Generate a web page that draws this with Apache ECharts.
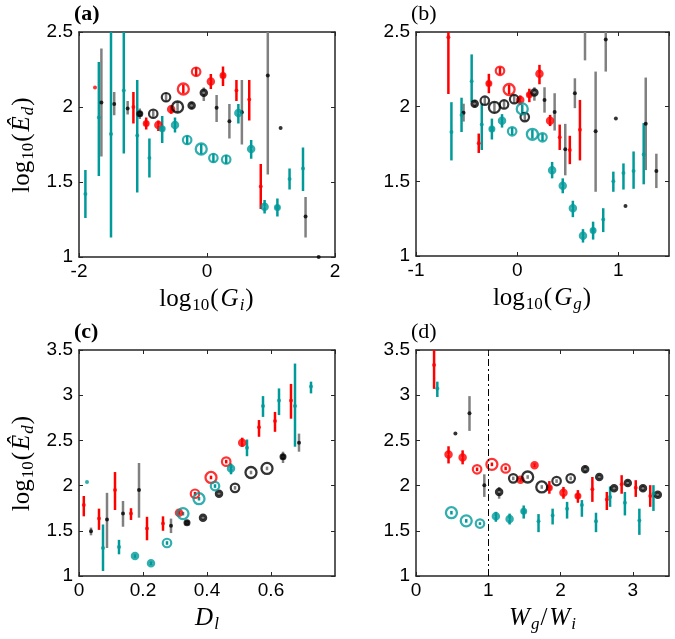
<!DOCTYPE html>
<html>
<head>
<meta charset="utf-8">
<script src="https://cdn.jsdelivr.net/npm/echarts@6/dist/echarts.min.js"></script>
<style>
  html, body { margin: 0; padding: 0; background: #fff; }
  #chart { width: 675px; height: 639px; }
</style>
</head>
<body>
<div id="chart"></div>
<script>
// each point: [x, y, errLow, errHigh, sizeClass]  (sizeClass 1..5 ~ sample count)
const aRed = [
  [-1.75, 2.13, 2.13, 2.13, 1], [-1.15, 2.00, 1.89, 2.10, 1], [-0.95, 1.89, 1.85, 1.93, 2],
  [-0.76, 1.88, 1.84, 1.91, 3], [-0.56, 1.985, 1.955, 2.01, 3], [-0.37, 2.12, 2.09, 2.15, 5],
  [-0.17, 2.235, 2.205, 2.265, 4], [0.06, 2.17, 2.12, 2.22, 3], [0.25, 2.21, 2.14, 2.27, 2],
  [0.46, 2.11, 2.04, 2.18, 1], [0.66, 2.05, 1.91, 2.18, 1], [0.84, 1.47, 1.32, 1.62, 1]
];
const aBlack = [
  [-1.65, 2.03, 1.67, 2.39, 1], [-1.45, 2.02, 1.945, 2.10, 1], [-1.24, 1.99, 1.95, 2.04, 1],
  [-1.05, 1.955, 1.92, 1.99, 2], [-0.84, 1.955, 1.93, 1.98, 4], [-0.64, 2.065, 2.035, 2.095, 4],
  [-0.46, 2.00, 1.965, 2.035, 5], [-0.24, 2.01, 1.985, 2.035, 3], [-0.05, 2.095, 2.04, 2.13, 3],
  [0.15, 1.995, 1.90, 2.08, 1], [0.35, 1.905, 1.79, 2.02, 1], [0.545, 1.965, 1.75, 2.18, 1],
  [0.95, 2.21, 1.55, 2.60, 1], [1.15, 1.86, 1.86, 1.86, 1], [1.54, 1.27, 1.13, 1.40, 1],
  [1.745, 1.00, 1.00, 1.00, 1]
];
const aTeal = [
  [-1.90, 1.42, 1.26, 1.58, 1], [-1.69, 1.93, 1.54, 2.30, 1], [-1.50, 1.82, 1.13, 2.60, 1],
  [-1.30, 2.11, 1.69, 2.60, 1], [-1.09, 1.81, 1.43, 2.18, 1], [-0.90, 1.66, 1.53, 1.79, 1],
  [-0.70, 1.855, 1.76, 1.94, 2], [-0.50, 1.88, 1.83, 1.93, 3], [-0.31, 1.78, 1.75, 1.81, 4],
  [-0.09, 1.72, 1.685, 1.755, 5], [0.10, 1.66, 1.63, 1.69, 4], [0.30, 1.65, 1.62, 1.68, 4],
  [0.49, 1.96, 1.89, 2.02, 3], [0.69, 1.72, 1.655, 1.78, 3], [0.90, 1.335, 1.29, 1.38, 3],
  [1.10, 1.33, 1.27, 1.39, 2], [1.29, 1.52, 1.45, 1.59, 1], [1.50, 1.59, 1.44, 1.73, 1]
];

const bRed = [
  [-0.68, 2.465, 2.085, 2.60, 1], [-0.38, 1.755, 1.69, 1.82, 1], [-0.28, 2.155, 2.09, 2.22, 2],
  [-0.17, 2.24, 2.215, 2.265, 4], [-0.08, 2.115, 2.085, 2.145, 5], [0.03, 2.045, 2.01, 2.075, 3],
  [0.12, 2.08, 2.03, 2.12, 2], [0.22, 2.22, 2.15, 2.28, 3], [0.325, 1.905, 1.87, 1.945, 3],
  [0.42, 1.795, 1.71, 1.88, 1], [0.52, 1.71, 1.615, 1.805, 1], [0.62, 1.845, 1.64, 2.045, 1]
];
const bBlack = [
  [-0.53, 1.96, 1.90, 2.02, 1], [-0.42, 2.02, 1.995, 2.045, 3], [-0.32, 2.04, 2.015, 2.065, 4],
  [-0.225, 1.995, 1.96, 2.03, 5], [-0.13, 2.015, 1.99, 2.04, 4], [-0.03, 2.05, 2.025, 2.075, 4],
  [0.075, 1.93, 1.905, 1.955, 4], [0.17, 2.095, 2.04, 2.13, 3], [0.27, 2.045, 1.96, 2.13, 1],
  [0.37, 1.965, 1.84, 2.09, 1], [0.475, 1.715, 1.54, 1.885, 1], [0.57, 2.09, 1.99, 2.19, 1],
  [0.67, 2.62, 2.31, 2.93, 1], [0.775, 1.835, 1.43, 2.235, 1], [0.875, 2.45, 2.235, 2.66, 1],
  [0.975, 1.92, 1.92, 1.92, 1], [1.07, 1.335, 1.335, 1.335, 1], [1.27, 1.885, 1.575, 2.195, 1],
  [1.375, 1.57, 1.455, 1.685, 1]
];
const bTeal = [
  [-0.65, 1.83, 1.64, 2.03, 1], [-0.55, 1.945, 1.83, 2.06, 1], [-0.45, 2.17, 2.03, 2.35, 1],
  [-0.35, 1.88, 1.71, 2.02, 1], [-0.25, 1.85, 1.78, 1.92, 2], [-0.15, 1.905, 1.86, 1.95, 3],
  [-0.05, 1.835, 1.81, 1.86, 4], [0.05, 1.985, 1.955, 2.015, 5], [0.15, 1.815, 1.785, 1.845, 5],
  [0.25, 1.795, 1.77, 1.82, 4], [0.345, 1.575, 1.52, 1.63, 3], [0.45, 1.47, 1.42, 1.52, 3],
  [0.55, 1.32, 1.26, 1.37, 3], [0.65, 1.135, 1.09, 1.18, 3], [0.75, 1.17, 1.11, 1.23, 2],
  [0.85, 1.245, 1.16, 1.32, 1], [0.95, 1.50, 1.43, 1.565, 1], [1.05, 1.555, 1.445, 1.62, 1],
  [1.15, 1.57, 1.45, 1.70, 1], [1.25, 1.68, 1.48, 1.89, 1]
];

const cRed = [
  [0.015, 1.785, 1.66, 1.885, 1], [0.0625, 1.635, 1.51, 1.745, 1], [0.1125, 1.95, 1.73, 2.15, 1],
  [0.1625, 1.69, 1.62, 1.75, 1], [0.2125, 1.525, 1.395, 1.655, 1], [0.2625, 1.58, 1.50, 1.66, 1],
  [0.3125, 1.70, 1.68, 1.72, 3], [0.3625, 1.91, 1.89, 1.93, 4], [0.4125, 2.09, 2.07, 2.11, 5],
  [0.46, 2.265, 2.245, 2.285, 4], [0.51, 2.475, 2.43, 2.53, 3], [0.5625, 2.645, 2.54, 2.725, 1],
  [0.6125, 2.715, 2.595, 2.815, 1], [0.6625, 2.94, 2.74, 3.125, 1]
];
const cBlack = [
  [0.0375, 1.495, 1.45, 1.535, 1], [0.0875, 1.625, 1.31, 1.92, 1], [0.1375, 1.69, 1.545, 1.83, 1],
  [0.1875, 1.95, 1.645, 2.25, 1], [0.2875, 1.555, 1.475, 1.635, 1], [0.3375, 1.59, 1.575, 1.605, 2],
  [0.3875, 1.645, 1.625, 1.665, 3], [0.4375, 1.91, 1.89, 1.93, 3], [0.4875, 1.975, 1.955, 1.995, 4],
  [0.5375, 2.145, 2.125, 2.165, 5], [0.5875, 2.19, 2.17, 2.21, 5], [0.6375, 2.32, 2.25, 2.375, 2],
  [0.6875, 2.475, 2.375, 2.575, 1]
];
const cTeal = [
  [0.025, 2.04, 2.04, 2.04, 1], [0.075, 1.31, 1.055, 1.57, 1], [0.125, 1.32, 1.24, 1.40, 1],
  [0.175, 1.22, 1.20, 1.24, 3], [0.225, 1.14, 1.12, 1.16, 3], [0.275, 1.365, 1.345, 1.385, 4],
  [0.325, 1.69, 1.67, 1.71, 5], [0.375, 1.855, 1.835, 1.875, 5], [0.425, 1.995, 1.975, 2.015, 4],
  [0.475, 2.19, 2.125, 2.245, 3], [0.525, 2.42, 2.325, 2.51, 1], [0.575, 2.88, 2.76, 2.99, 1],
  [0.625, 2.94, 2.78, 3.075, 1], [0.675, 2.88, 2.43, 3.35, 1], [0.725, 3.095, 3.02, 3.15, 1]
];

const dRed = [
  [0.25, 3.335, 3.07, 3.60, 1], [0.45, 2.345, 2.245, 2.435, 3], [0.645, 2.31, 2.235, 2.39, 3],
  [0.845, 2.18, 2.16, 2.20, 4], [1.05, 2.235, 2.215, 2.255, 5], [1.24, 2.19, 2.17, 2.21, 4],
  [1.445, 2.065, 2.045, 2.085, 3], [1.64, 2.225, 2.205, 2.245, 3], [1.845, 1.975, 1.91, 2.05, 2],
  [2.04, 1.92, 1.855, 1.985, 3], [2.24, 1.885, 1.81, 1.95, 2], [2.44, 1.96, 1.82, 2.095, 1],
  [2.64, 1.845, 1.73, 1.93, 1], [2.845, 2.015, 1.91, 2.115, 1], [3.04, 1.975, 1.875, 2.06, 1],
  [3.24, 1.885, 1.765, 2.005, 1]
];
const dBlack = [
  [0.545, 2.575, 2.575, 2.575, 1], [0.74, 2.80, 2.605, 2.99, 1], [0.945, 2.005, 1.875, 2.125, 1],
  [1.15, 1.93, 1.855, 1.985, 3], [1.345, 2.08, 2.06, 2.10, 4], [1.545, 2.095, 2.075, 2.115, 5],
  [1.74, 1.985, 1.965, 2.005, 5], [1.945, 2.05, 2.03, 2.07, 4], [2.14, 2.08, 2.06, 2.10, 4],
  [2.34, 2.18, 2.14, 2.22, 3], [2.535, 2.095, 2.07, 2.12, 3], [2.74, 1.97, 1.95, 1.99, 3],
  [2.93, 2.03, 2.00, 2.06, 3], [3.14, 1.97, 1.94, 2.00, 3], [3.345, 1.90, 1.875, 1.925, 3]
];
const dTeal = [
  [0.295, 3.075, 2.98, 3.15, 1], [0.49, 1.70, 1.68, 1.72, 5], [0.695, 1.61, 1.59, 1.63, 5],
  [0.885, 1.58, 1.565, 1.595, 4], [1.105, 1.66, 1.60, 1.71, 3], [1.295, 1.63, 1.57, 1.69, 3],
  [1.49, 1.715, 1.635, 1.78, 2], [1.695, 1.605, 1.485, 1.685, 1], [1.89, 1.67, 1.57, 1.745, 1],
  [2.09, 1.745, 1.635, 1.82, 1], [2.295, 1.785, 1.655, 1.84, 1], [2.49, 1.605, 1.485, 1.70, 1],
  [2.685, 1.875, 1.765, 1.99, 1], [2.89, 1.81, 1.67, 1.93, 1], [3.09, 1.615, 1.455, 1.745, 1],
  [3.285, 1.91, 1.72, 2.005, 1]
];
const dRefX = 1;   // vertical dash-dot reference in panel (d)

// axis setups
const panelTags = ['(a)', '(b)', '(c)', '(d)'];
const xLims = [[-2, 2, 2], [-1, 1.5, 1], [0, 0.8, 0.2], [0, 3.5, 1]];
const yLims = [[1, 2.5, 0.5], [1, 2.5, 0.5], [1, 3.5, 0.5], [1, 3.5, 0.5]];
const xNames = [
  '{n|log}{s|10}{n|(}{i|G}{si|i}{n|)}',
  '{n|log}{s|10}{n|(}{i|G}{si|g}{n|)}',
  '{i|D}{si|l}',
  '{i|W}{si|g}{n|/}{i|W}{si|i}'
];
const yName = '{n|log}{s|10}{n|(}{i|Ê}{si|d}{n|)}';

const RED = '#ff0000', TEAL = '#009a9a', BLACK = '#000000', GRAY = '#808080';
const FRAME = '#262626';
// [symbolSize, borderWidth, filled]
const MARK = [null, [4, 0, true], [5, 2, true], [5.5, 3, false], [8.5, 2.2, false], [11, 2.3, false]];

const grids = [
  { left: 79, top: 32, width: 256, height: 225 },
  { left: 416, top: 32, width: 253, height: 224 },
  { left: 79, top: 350, width: 256, height: 226 },
  { left: 416, top: 350, width: 253, height: 226 }
];

const serif = 'Liberation Serif';
const mathRich = {
  n: { fontFamily: serif, fontSize: 25, lineHeight: 30, color: '#000', padding: [0, 1, 0, 0] },
  i: { fontFamily: serif, fontStyle: 'italic', fontSize: 25, lineHeight: 30, color: '#000', padding: [0, 1, 0, 1] },
  s: { fontFamily: serif, fontSize: 17, lineHeight: 15, verticalAlign: 'bottom', color: '#000', padding: [0, 1, 0, 0] },
  si: { fontFamily: serif, fontStyle: 'italic', fontSize: 17, lineHeight: 15, verticalAlign: 'bottom', color: '#000', padding: [0, 1, 0, 0] }
};

const xAxes = [], yAxes = [];
for (let g = 0; g < 4; g++) {
  ['bottom', 'top'].forEach(pos => {
    xAxes.push({
      type: 'value', gridIndex: g, position: pos,
      min: xLims[g][0], max: xLims[g][1], interval: xLims[g][2],
      axisLine: { show: true, onZero: false, lineStyle: { color: FRAME, width: 1.5 } },
      axisTick: { show: true, inside: true, length: 4, lineStyle: { color: FRAME, width: 1 } },
      axisLabel: {
        show: pos === 'bottom', margin: 5, showMaxLabel: g === 0,
        fontFamily: 'Liberation Sans', fontSize: 19, color: '#000'
      },
      splitLine: { show: false },
      name: pos === 'bottom' ? xNames[g] : '',
      nameLocation: 'middle', nameGap: 27,
      nameTextStyle: { rich: mathRich }
    });
  });
  ['left', 'right'].forEach(pos => {
    yAxes.push({
      type: 'value', gridIndex: g, position: pos,
      min: yLims[g][0], max: yLims[g][1], interval: yLims[g][2],
      axisLine: { show: true, onZero: false, lineStyle: { color: FRAME, width: 1.5 } },
      axisTick: { show: true, inside: true, length: 4, lineStyle: { color: FRAME, width: 1 } },
      axisLabel: {
        show: pos === 'left', margin: 6,
        fontFamily: 'Liberation Sans', fontSize: 19, color: '#000'
      },
      splitLine: { show: false },
      name: pos === 'left' && (g === 0 || g === 2) ? yName : '',
      nameLocation: 'middle', nameGap: 42, nameRotate: 90,
      nameTextStyle: { rich: mathRich }
    });
  });
}

function errBars(pts, color, g) {
  return {
    type: 'custom', xAxisIndex: 2 * g, yAxisIndex: 2 * g, clip: true, silent: true,
    data: pts.map(p => [p[0], p[2], p[3]]),
    encode: { x: 0, y: [1, 2] },
    renderItem: (params, api) => {
      const a = api.coord([api.value(0), api.value(1)]);
      const b = api.coord([api.value(0), api.value(2)]);
      return {
        type: 'line',
        shape: { x1: a[0], y1: a[1], x2: b[0], y2: b[1] },
        style: { stroke: color, lineWidth: 2.5 }
      };
    }
  };
}

function marks(pts, color, g) {
  return {
    type: 'scatter', xAxisIndex: 2 * g, yAxisIndex: 2 * g, clip: true, silent: true,
    symbol: 'circle',
    data: pts.map(p => {
      const m = MARK[p[4]];
      return {
        value: [p[0], p[1]],
        symbolSize: m[0],
        itemStyle: {
          color: m[2] ? color : 'rgba(255,255,255,0)',
          borderColor: color,
          borderWidth: m[1]
        }
      };
    }),
    emphasis: { disabled: true }
  };
}

const panels = [
  [aRed, aBlack, aTeal], [bRed, bBlack, bTeal], [cRed, cBlack, cTeal], [dRed, dBlack, dTeal]
];
const series = [];
panels.forEach((sets, g) => {
  const [r, k, t] = sets;
  series.push(errBars(r, RED, g), marks(r, RED, g));
  series.push(errBars(k, GRAY, g), marks(k, BLACK, g));
  series.push(errBars(t, TEAL, g), marks(t, TEAL, g));
});
// dash-dot line in (d)
series.push({
  type: 'line', xAxisIndex: 6, yAxisIndex: 6, data: [], silent: true,
  markLine: {
    symbol: 'none', silent: true, label: { show: false },
    lineStyle: { color: '#000', width: 1, type: [7, 3, 2, 3] },
    data: [{ xAxis: dRefX }]
  }
});

const tagPos = [[74, 3], [411, 3], [74, 321], [411, 321]];
const graphic = panelTags.map((t, i) => ({
  type: 'text', left: tagPos[i][0], top: tagPos[i][1],
  style: {
    text: t, fill: '#000',
    font: (i % 2 === 0 ? 'bold ' : '') + '22px "Liberation Serif"'
  }
}));

const chart = echarts.init(document.getElementById('chart'), null, { renderer: 'canvas' });
chart.setOption({
  animation: false,
  backgroundColor: '#fff',
  grid: grids,
  xAxis: xAxes,
  yAxis: yAxes,
  series: series,
  graphic: graphic
});
</script>
</body>
</html>
